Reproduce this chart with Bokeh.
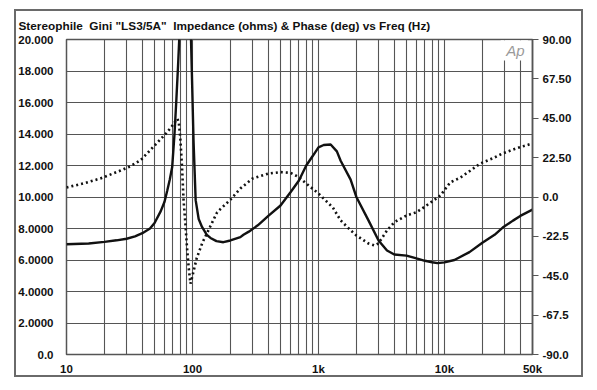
from bokeh.plotting import figure
from bokeh.models import Range1d, LinearAxis, FixedTicker, Label, BoxAnnotation
from bokeh.embed import file_html
from bokeh.resources import INLINE

# ---- data ----
imp_freq = [10, 15, 20, 25, 30, 35, 40, 46, 50, 56, 60, 63, 66, 69, 72, 74.5, 77, 79,
            82, 86, 90, 94, 97, 99.5, 102, 106, 112, 119, 130, 139, 155, 176, 200, 240,
            254, 280, 330, 400, 500, 600, 700, 800, 900, 1000, 1100, 1250, 1400, 1500,
            1800, 2000, 2500, 3000, 3500, 4000, 5000, 6000, 7000, 8000, 8800, 10000,
            12000, 15800, 20000, 25000, 29000, 35000, 40000, 50000]
imp_ohms = [7.0, 7.05, 7.15, 7.25, 7.35, 7.5, 7.7, 8.0, 8.35, 9.1, 9.7, 10.4, 11.1, 11.9,
            14.0, 16.2, 18.5, 20.5, 25.0, 32.0, 30.0, 24.0, 20.5, 17.0, 13.5, 9.8, 8.6,
            8.1, 7.6, 7.4, 7.2, 7.13, 7.24, 7.45, 7.6, 7.8, 8.2, 8.8, 9.46, 10.3, 11.05,
            12.0, 12.6, 13.15, 13.3, 13.33, 12.9, 12.3, 11.1, 10.0, 8.5, 7.24, 6.6, 6.35,
            6.28, 6.1, 5.95, 5.86, 5.8, 5.85, 6.0, 6.5, 7.1, 7.6, 8.06, 8.5, 8.8, 9.2]

ph_freq = [10, 14, 18.6, 26.8, 32, 38.7, 46.5, 55.7, 62, 68, 72, 76, 78, 80, 82.5, 85,
           88, 90.5, 93.5, 96.4, 100, 108, 120, 130, 157, 200, 240, 300, 400, 500, 600,
           700, 800, 1000, 1300, 1500, 1800, 2000, 2500, 2800, 3000, 3500, 4000, 5000,
           6000, 7000, 8000, 9300, 11100, 13400, 16000, 19200, 24000, 29000, 38000, 50000]
ph_deg = [5.4, 8.0, 10.6, 15.1, 17.5, 21.0, 27.0, 33.0, 36.5, 40.0, 42.5, 44.7, 42.0,
          34.0, 18.0, -2.0, -16.0, -29.0, -41.0, -49.5, -45.0, -35.0, -26.0, -20.9, -8.7,
          -1.5, 4.9, 10.6, 13.4, 14.2, 13.8, 11.3, 7.7, 2.0, -6.0, -13.4, -19.0, -22.0,
          -26.6, -27.7, -26.4, -19.1, -14.4, -10.6, -8.7, -5.5, -2.5, 0.9, 8.3, 11.1,
          15.0, 19.1, 22.0, 24.9, 28.0, 30.6]

title_text = ('Stereophile\u00a0 Gini "LS3/5A"\u00a0 Impedance (ohms) & Phase (deg) '
              'vs Freq (Hz)')

x_ticks = [10, 100, 1000, 10000, 50000]
x_labels = ["10", "100", "1k", "10k", "50k"]
imp_ticks = [0, 2, 4, 6, 8, 10, 12, 14, 16, 18, 20]
imp_labels = ["0.0", "2.0000", "4.0000", "6.0000", "8.0000", "10.000", "12.000",
              "14.000", "16.000", "18.000", "20.000"]
ph_ticks = [-90, -67.5, -45, -22.5, 0, 22.5, 45, 67.5, 90]
ph_labels = ["-90.0", "-67.5", "-45.0", "-22.5", "0.0", "22.50", "45.00", "67.50", "90.00"]

grid_freqs = [m * 10 ** d for d in range(1, 5) for m in range(1, 10)] + [50000]

FONT = "Liberation Sans"
GRID = "#555555"
BOX = "#6a6a6a"

p = figure(width=589, height=382, x_axis_type="log", x_range=(10, 50000), y_range=(0, 20),
           output_backend="svg", toolbar_location=None,
           min_border_left=66, min_border_right=57, min_border_top=39, min_border_bottom=28)
# outer frame drawn behind a transparent canvas border
p.border_fill_alpha = 0
p.styles = {
    "background-color": "white",
    "box-shadow": ("inset 14px 0 0 0 #fff, inset -6px 0 0 0 #fff, inset 0 9px 0 0 #fff, "
                   "inset 0 -5px 0 0 #fff, inset 16px 0 0 0 %s, inset -8px 0 0 0 %s, "
                   "inset 0 11px 0 0 %s, inset 0 -7px 0 0 %s") % (BOX, BOX, BOX, BOX),
}
p.background_fill_color = "white"
p.outline_line_color = GRID
p.outline_line_width = 1.5

# title
p.title.text = title_text
p.title.align = "left"
p.title.offset = -48
p.title.standoff = 14
p.title.text_font = FONT
p.title.text_font_style = "bold"
p.title.text_font_size = "11.8px"
p.title.text_color = "#111111"

# grids
p.xgrid.ticker = FixedTicker(ticks=grid_freqs)
p.ygrid.ticker = FixedTicker(ticks=imp_ticks)
for g in (p.xgrid, p.ygrid):
    g.grid_line_color = GRID
    g.grid_line_width = 1.1
p.xgrid.minor_grid_line_color = None

# bottom axis
xa = p.xaxis[0]
xa.ticker = FixedTicker(ticks=x_ticks)
xa.major_label_overrides = {t: l for t, l in zip(x_ticks, x_labels)}
xa.axis_line_color = None
xa.major_tick_line_color = None
xa.major_tick_out = 0
xa.major_tick_in = 0
xa.minor_tick_line_color = None
xa.major_label_standoff = 8

# left axis
ya = p.yaxis[0]
ya.ticker = FixedTicker(ticks=imp_ticks)
ya.major_label_overrides = {t: l for t, l in zip(imp_ticks, imp_labels)}
ya.axis_line_color = None
ya.major_tick_line_color = None
ya.major_tick_out = 0
ya.major_tick_in = 0
ya.minor_tick_line_color = None
ya.major_label_standoff = 13

# right axis (phase)
p.extra_y_ranges = {"phase": Range1d(-90, 90)}
ra = LinearAxis(y_range_name="phase", ticker=FixedTicker(ticks=ph_ticks),
                major_label_overrides={t: l for t, l in zip(ph_ticks, ph_labels)})
ra.axis_line_color = GRID
ra.axis_line_width = 1.5
ra.major_tick_line_color = GRID
ra.major_tick_line_width = 1.2
ra.major_tick_in = 0
ra.major_tick_out = 6
ra.minor_tick_line_color = None
ra.major_label_standoff = 4
p.add_layout(ra, "right")

for ax in (xa, ya, ra):
    ax.major_label_text_font = FONT
    ax.major_label_text_font_style = "bold"
    ax.major_label_text_font_size = "11.5px"
    ax.major_label_text_color = "#111111"

# curves
p.line(imp_freq, imp_ohms, line_color="#111111", line_width=2.4)
p.line(ph_freq, ph_deg, y_range_name="phase", line_color="#111111", line_width=2.6,
       line_dash="2 3")

# mask behind the Ap logo
p.add_layout(BoxAnnotation(left=28000, right=46000, bottom=18.67, top=19.95,
                           fill_color="white", fill_alpha=1.0, line_color=None))
p.add_layout(Label(x=36600, y=19.3, text="Ap", text_font=FONT, text_font_style="italic",
                   text_font_size="15px", text_color="#9a9a9a", text_align="center",
                   text_baseline="middle"))

open("out.html", "w").write(file_html(p, INLINE))
